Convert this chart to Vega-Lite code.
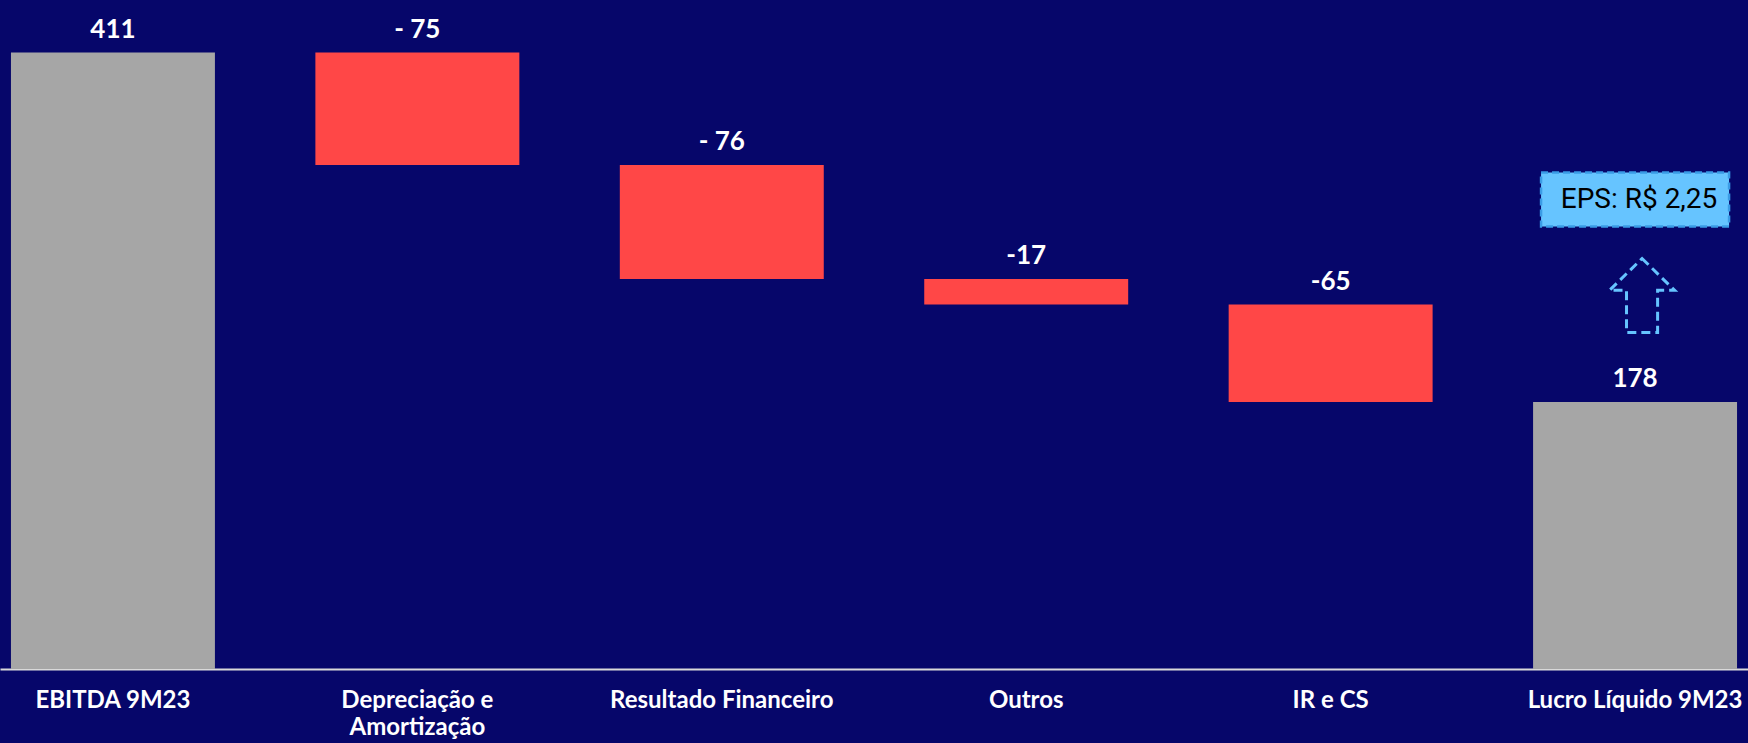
{
  "$schema": "https://vega.github.io/schema/vega-lite/v6.json",
  "width": 1748,
  "height": 669,
  "autosize": {"type": "none"},
  "padding": {"left": 0, "top": 0, "right": 0, "bottom": 74},
  "background": "#06066A",
  "config": {"view": {"stroke": null}, "font": "Lato"},
  "datasets": {
    "bars": [
      {"category": "EBITDA 9M23", "start": 0, "end": 411, "top": 411, "label": "411", "type": "total"},
      {"category": "Depreciação e Amortização", "start": 411, "end": 336, "top": 411, "label": "- 75", "type": "neg"},
      {"category": "Resultado Financeiro", "start": 336, "end": 260, "top": 336, "label": "- 76", "type": "neg"},
      {"category": "Outros", "start": 260, "end": 243, "top": 260, "label": "-17", "type": "neg"},
      {"category": "IR e CS", "start": 243, "end": 178, "top": 243, "label": "-65", "type": "neg"},
      {"category": "Lucro Líquido 9M23", "start": 0, "end": 178, "top": 178, "label": "178", "type": "total"}
    ],
    "eps": [
      {"category": "Lucro Líquido 9M23", "low": 295, "high": 331, "mid": 313, "text": "EPS: R$ 2,25", "arrow": 249}
    ]
  },
  "encoding": {
    "x": {
      "field": "category",
      "type": "nominal",
      "sort": null,
      "scale": {"paddingInner": 0.33, "paddingOuter": 0.036},
      "axis": {
        "title": null,
        "ticks": false,
        "domainColor": "#D9D9D9",
        "domainWidth": 2,
        "labelColor": "#FFFFFF",
        "labelFont": "Lato",
        "labelFontWeight": "bold",
        "labelFontSize": 24,
        "labelPadding": 19,
        "labelLineHeight": 27,
        "labelBaseline": "top",
        "labelAngle": 0,
        "labelLimit": 400,
        "labelExpr": "datum.label == 'Depreciação e Amortização' ? ['Depreciação e', 'Amortização'] : datum.label"
      }
    }
  },
  "layer": [
    {
      "data": {"name": "bars"},
      "mark": {"type": "bar"},
      "encoding": {
        "y": {"field": "start", "type": "quantitative", "scale": {"domain": [0, 446], "nice": false, "zero": true}, "axis": null},
        "y2": {"field": "end"},
        "color": {"field": "type", "type": "nominal", "scale": {"domain": ["total", "neg"], "range": ["#A6A6A6", "#FF4747"]}, "legend": null}
      }
    },
    {
      "data": {"name": "bars"},
      "mark": {"type": "text", "baseline": "bottom", "dy": -10, "fontSize": 26, "fontWeight": "bold", "font": "Lato", "color": "#FFFFFF"},
      "encoding": {
        "y": {"field": "top", "type": "quantitative"},
        "text": {"field": "label"}
      }
    },
    {
      "data": {"name": "eps"},
      "mark": {"type": "bar", "width": 188, "fill": "#66C4FF", "stroke": "#3A9BE6", "strokeWidth": 2.5, "strokeDash": [7, 4]},
      "encoding": {
        "y": {"field": "low", "type": "quantitative"},
        "y2": {"field": "high"}
      }
    },
    {
      "data": {"name": "eps"},
      "mark": {"type": "text", "fontSize": 28, "font": "Roboto", "color": "#000000", "baseline": "middle", "dx": 4},
      "encoding": {
        "y": {"field": "mid", "type": "quantitative"},
        "text": {"field": "text"}
      }
    },
    {
      "data": {"name": "eps"},
      "mark": {
        "type": "point",
        "shape": "M0,-1 L0.88,-0.14 L0.42,-0.14 L0.42,1 L-0.42,1 L-0.42,-0.14 L-0.88,-0.14 Z",
        "size": 5476,
        "filled": false,
        "fill": null,
        "stroke": "#66C4FF",
        "strokeWidth": 3,
        "strokeDash": [9, 5],
        "opacity": 1,
        "xOffset": 7
      },
      "encoding": {
        "y": {"field": "arrow", "type": "quantitative"}
      }
    }
  ]
}
